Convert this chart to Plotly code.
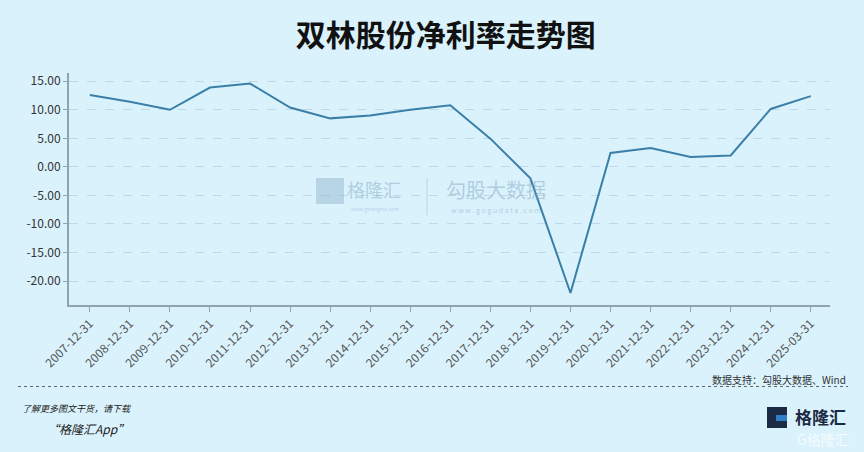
import plotly.graph_objects as go

dates = ["2007-12-31", "2008-12-31", "2009-12-31", "2010-12-31", "2011-12-31",
         "2012-12-31", "2013-12-31", "2014-12-31", "2015-12-31", "2016-12-31",
         "2017-12-31", "2018-12-31", "2019-12-31", "2020-12-31", "2021-12-31",
         "2022-12-31", "2023-12-31", "2024-12-31", "2025-03-31"]
net_margin = [12.6, 11.4, 10.0, 13.9, 14.6, 10.4, 8.5, 9.0, 10.0, 10.8,
              4.95, -2.0, -22.1, 2.45, 3.3, 1.75, 2.0, 10.15, 12.4]
y_ticks = [15, 10, 5, 0, -5, -10, -15, -20]
y_tick_labels = ["15.00", "10.00", "5.00", "0.00", "-5.00", "-10.00", "-15.00", "-20.00"]

BG = "#daf2fc"
FONT = "Noto Sans CJK SC"

fig = go.Figure()
fig.add_trace(go.Scatter(
    x=list(range(len(dates))), y=net_margin, mode="lines",
    line=dict(color="#3a7fa8", width=2), hoverinfo="skip", showlegend=False,
))

fig.update_layout(
    width=864, height=452,
    paper_bgcolor=BG, plot_bgcolor=BG,
    margin=dict(l=69, r=34, t=73, b=147),
    font=dict(family=FONT, color="#333333"),
    title=dict(text="<b>双林股份净利率走势图</b>", x=0.516, xanchor="center",
               y=0.921, yanchor="middle",
               font=dict(size=30, color="#111111", family=FONT)),
    xaxis=dict(
        range=[-0.52, 18.48], tickmode="array",
        tickvals=list(range(len(dates))), ticktext=dates, tickangle=-45,
        showgrid=False, zeroline=False,
        showline=True, linecolor="#8fa3b0", linewidth=2,
        ticks="outside", ticklen=5, tickcolor="#8fa3b0", tickwidth=1,
        tickfont=dict(size=12, color="#555555", family=FONT),
    ),
    yaxis=dict(
        range=[-24.2, 16.45], tickmode="array",
        tickvals=y_ticks, ticktext=y_tick_labels,
        showgrid=True, gridcolor="#bfd9e6", griddash="dash", gridwidth=1,
        zeroline=False,
        showline=True, linecolor="#8fa3b0", linewidth=2,
        ticks="outside", ticklen=4, tickcolor="#8fa3b0",
        tickfont=dict(size=12, color="#333333", family=FONT),
    ),
)

def px_x(x):
    return (x - 69) / 761

def px_y(y):
    return (305 - y) / 232

# footer separator
fig.add_shape(type="line", xref="paper", yref="paper",
              x0=px_x(18), x1=px_x(848), y0=px_y(386.5), y1=px_y(386.5),
              line=dict(color="#666666", width=1, dash="dot"))

fig.add_annotation(text="数据支持：勾股大数据、Wind", xref="paper", yref="paper",
                   x=px_x(848), y=px_y(379), xanchor="right", yanchor="middle",
                   showarrow=False, font=dict(size=10, color="#333333", family=FONT))
fig.add_annotation(text="<i>了解更多图文干货，请下载</i>", xref="paper", yref="paper",
                   x=px_x(20), y=px_y(408), xanchor="left", yanchor="middle",
                   showarrow=False, font=dict(size=9, color="#222222", family=FONT))
fig.add_annotation(text="<i>“格隆汇App”</i>", xref="paper", yref="paper",
                   x=px_x(45), y=px_y(429), xanchor="left", yanchor="middle",
                   showarrow=False, font=dict(size=12, color="#222222", family=FONT))

# watermark
WM = "rgba(120,160,190,0.45)"
fig.add_shape(type="rect", xref="paper", yref="paper",
              x0=px_x(316), x1=px_x(344), y0=px_y(204), y1=px_y(178),
              line=dict(width=0), fillcolor="rgba(120,160,190,0.35)")
fig.add_annotation(text="格隆汇", xref="paper", yref="paper",
                   x=px_x(374), y=px_y(189), xanchor="center", yanchor="middle",
                   showarrow=False, font=dict(size=18, color=WM, family=FONT))
fig.add_annotation(text="www.gelonghui.com", xref="paper", yref="paper",
                   x=px_x(375), y=px_y(209), xanchor="center", yanchor="middle",
                   showarrow=False, font=dict(size=5, color=WM, family=FONT))
fig.add_shape(type="line", xref="paper", yref="paper",
              x0=px_x(427), x1=px_x(427), y0=px_y(178), y1=px_y(215),
              line=dict(color="rgba(120,160,190,0.35)", width=1))
fig.add_annotation(text="勾股大数据", xref="paper", yref="paper",
                   x=px_x(496), y=px_y(189), xanchor="center", yanchor="middle",
                   showarrow=False, font=dict(size=20, color=WM, family=FONT))
fig.add_annotation(text="w w w . g o g u d a t a . c o m", xref="paper", yref="paper",
                   x=px_x(496), y=px_y(210), xanchor="center", yanchor="middle",
                   showarrow=False, font=dict(size=7, color=WM, family=FONT))

# bottom-right logo
fig.add_shape(type="rect", xref="paper", yref="paper",
              x0=px_x(767), x1=px_x(787), y0=px_y(428), y1=px_y(407),
              line=dict(width=0), fillcolor="#1c2b45")
fig.add_shape(type="rect", xref="paper", yref="paper",
              x0=px_x(776), x1=px_x(787), y0=px_y(421), y1=px_y(415),
              line=dict(width=0), fillcolor="#2f7fc8")
fig.add_annotation(text="<b>格隆汇</b>", xref="paper", yref="paper",
                   x=px_x(820), y=px_y(416), xanchor="center", yanchor="middle",
                   showarrow=False, font=dict(size=17, color="#1c2b45", family=FONT))
fig.add_annotation(text="G格隆汇", xref="paper", yref="paper",
                   x=px_x(823), y=px_y(439), xanchor="center", yanchor="middle",
                   showarrow=False, font=dict(size=14, color="rgba(255,255,255,0.75)", family=FONT))

fig.write_html("out.html", config={"displayModeBar": False},
               post_script="document.body.style.margin='0';document.body.style.overflow='hidden';")
